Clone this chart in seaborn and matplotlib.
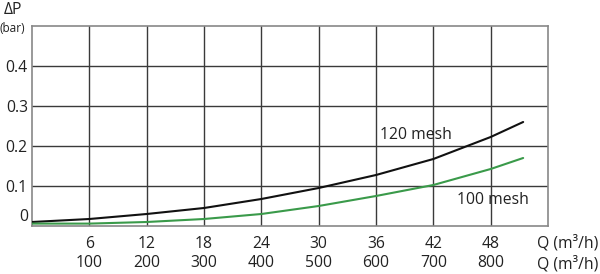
import matplotlib
matplotlib.use("Agg")
import matplotlib.pyplot as plt
import seaborn as sns
import pandas as pd

# flow in m3/h (upper tick row) and pressure drop in bar
flow = [0, 6, 12, 18, 24, 30, 36, 42, 48, 51.4]
dp_120 = [0.010, 0.0175, 0.030, 0.045, 0.0675, 0.095, 0.1275, 0.1675, 0.2225, 0.260]
dp_100 = [0.006, 0.006, 0.010, 0.0175, 0.030, 0.050, 0.075, 0.1025, 0.1425, 0.170]

x_ticks = [6, 12, 18, 24, 30, 36, 42, 48]
x_labels_top = ["6", "12", "18", "24", "30", "36", "42", "48"]
x_labels_bottom = ["100", "200", "300", "400", "500", "600", "700", "800"]
y_ticks = [0.1, 0.2, 0.3, 0.4]
y_labels = ["0.1", "0.2", "0.3", "0.4"]

df = pd.DataFrame({
    "Q": flow * 2,
    "dP": dp_120 + dp_100,
    "mesh": ["120 mesh"] * len(flow) + ["100 mesh"] * len(flow),
})

sns.set_style("white")
plt.rcParams["font.family"] = ["Open Sans", "DejaVu Sans"]
plt.rcParams["font.size"] = 11.3
txt = "#222222"

fig = plt.figure(figsize=(6, 2.74), dpi=100)
ax = fig.add_axes([32 / 600, 48 / 274, 516 / 600, 200 / 274])

sns.lineplot(data=df, x="Q", y="dP", hue="mesh",
             palette={"120 mesh": "#111111", "100 mesh": "#3a9a4a"},
             linewidth=1.5, legend=False, ax=ax, zorder=3)

ax.set_xlim(0, 54)
ax.set_ylim(0, 0.5)
ax.set_xticks(x_ticks)
ax.set_xticklabels([f"{a}\n{b}" for a, b in zip(x_labels_top, x_labels_bottom)],
                   linespacing=1.3, color=txt)
ax.set_yticks(y_ticks)
ax.set_yticklabels(y_labels, color=txt)
ax.tick_params(axis="x", length=0, pad=7)
ax.tick_params(axis="y", length=0, pad=3)
ax.set_xlabel("")
ax.set_ylabel("")

ax.grid(True, color="#3a3a3a", linewidth=1)
for s in ax.spines.values():
    s.set_color("#888888")
    s.set_linewidth(1.2)

# zero label sits a bit above the bottom edge
ax.text(-0.008, 0.022, "0", transform=ax.get_yaxis_transform(),
        ha="right", va="center", color=txt)

ax.text(36.4, 0.228, "120 mesh", ha="left", va="center", color=txt)
ax.text(44.5, 0.065, "100 mesh", ha="left", va="center", color=txt)

fig.text(4 / 600, 1 - 10 / 274, "ΔP", ha="left", va="center", fontsize=11.3, color=txt)
fig.text(0 / 600, 1 - 28 / 274, "(bar)", ha="left", va="center", fontsize=8.5, color=txt)
fig.text(598 / 600, 1 - 243 / 274, "Q (m³/h)", ha="right", va="center", color=txt)
fig.text(598 / 600, 1 - 264 / 274, "Q (m³/h)", ha="right", va="center", color=txt)

fig.savefig("out.png", dpi=100)
